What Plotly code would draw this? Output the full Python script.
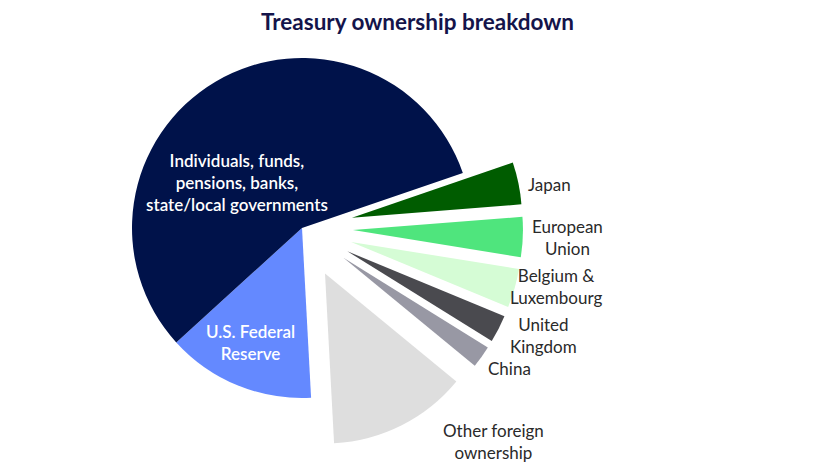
import plotly.graph_objects as go

# Holders of Treasury debt, in pie order (clockwise from the Japan / domestic boundary)
holders = [
    "Japan",
    "European Union",
    "Belgium & Luxembourg",
    "United Kingdom",
    "China",
    "Other foreign ownership",
    "U.S. Federal Reserve",
    "Individuals, funds, pensions, banks, state/local governments",
]
# Share of total holdings (%)
shares = [4.0, 3.8, 3.7, 2.6, 2.1, 13.2, 14.1, 56.5]
# Text drawn next to each slice
slice_text = [
    "Japan",
    "European<br>Union",
    "Belgium &<br>Luxembourg",
    "United<br>Kingdom",
    "China",
    "Other foreign<br>ownership",
    "U.S. Federal<br>Reserve",
    "Individuals, funds,<br>pensions, banks,<br>state/local governments",
]
foreign = [True, True, True, True, True, True, False, False]

colors = ["#005c00", "#4fe57d", "#d5fcd5", "#4a4a4f",
          "#9898a4", "#dedede", "#6489ff", "#00124a"]

W, H = 840, 472
PULL = 0.3

fig = go.Figure(go.Pie(
    labels=holders,
    values=shares,
    sort=False,
    direction="clockwise",
    rotation=71.1,
    pull=[PULL if f else 0 for f in foreign],
    marker=dict(colors=colors, line=dict(width=0)),
    textinfo="none",
    hoverinfo="skip",
    showlegend=False,
    domain=dict(x=[81 / W, 523 / W], y=[23 / H, 465 / H]),
))

# label placement (pixel centres in the page), white on the two domestic slices
label_pos = [(549, 185), (567, 237), (556, 286), (543, 335),
             (510, 368), (493, 441), (250, 342), (237, 182)]
for txt, (px, py), f in zip(slice_text, label_pos, foreign):
    fig.add_annotation(
        x=px / W, y=1 - py / H, xref="paper", yref="paper",
        text=txt, showarrow=False, xanchor="center", yanchor="middle",
        align="center",
        font=dict(family="Lato", size=17,
                  color="#2a2a2a" if f else "#ffffff",
                  weight=400 if f else 600),
    )

fig.update_layout(
    width=W, height=H,
    margin=dict(l=0, r=0, t=0, b=0),
    paper_bgcolor="#ffffff",
    plot_bgcolor="#ffffff",
    title=dict(
        text="<b>Treasury ownership breakdown</b>",
        x=0.497, xanchor="center", y=1 - 22 / H, yanchor="middle",
        font=dict(family="Lato", size=22.5, color="#14144a"),
    ),
)

fig.write_html("out.html")
